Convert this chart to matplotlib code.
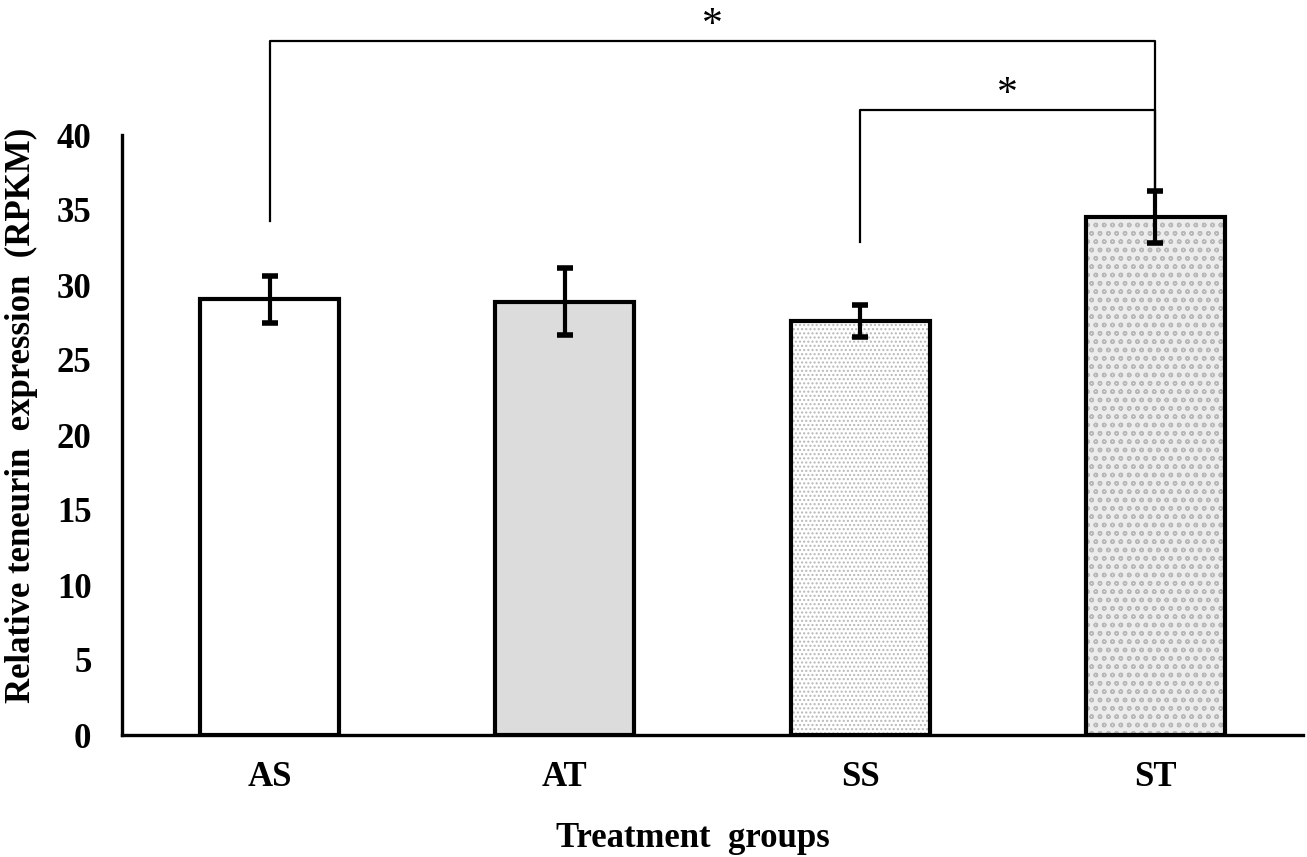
import matplotlib
matplotlib.use("Agg")
import matplotlib.pyplot as plt

groups = ["AS", "AT", "SS", "ST"]
means = [29.05, 28.9, 27.6, 34.55]
errors = [1.55, 2.25, 1.05, 1.75]
colors = ["white", "#dcdcdc", "white", "#ececec"]
hatches = [None, None, "....", "oo"]

# significance brackets: (left group, right group, bracket height, left leg bottom, label)
brackets = [(0, 3, 46.3, 34.3, "*"), (2, 3, 41.7, 32.9, "*")]

plt.rcParams["font.family"] = ["Liberation Serif", "DejaVu Serif"]
plt.rcParams["font.weight"] = "bold"
plt.rcParams["hatch.linewidth"] = 1.0

fig = plt.figure(figsize=(13.07, 8.57), dpi=100)
ax = fig.add_axes([122 / 1307, 122 / 857, (1303 - 122) / 1307, (735 - 135) / 857])

x = list(range(len(groups)))
for i in x:
    ax.bar(i, means[i], width=0.47, color=colors[i], hatch=hatches[i],
           edgecolor="#b8b8b8", linewidth=0, zorder=2)
ax.bar(x, means, width=0.47, fill=False, edgecolor="black", linewidth=3, zorder=3)
ax.errorbar(x, means, yerr=errors, fmt="none", ecolor="black", elinewidth=3,
            capsize=6, capthick=4, zorder=4)

for a, b, h, lo, lab in brackets:
    hi_right = means[b] + errors[b]
    ax.plot([a, a, b, b], [lo, h, h, hi_right], color="black", lw=1.6,
            clip_on=False, zorder=5)
    ax.text((a + b) / 2, h + 0.3, lab, ha="center", va="baseline", fontsize=30,
            fontweight="normal", clip_on=False)

ax.set_xlim(-0.5, 3.5)
ax.set_ylim(0, 40)
ax.set_yticks(range(0, 41, 5))
ax.set_xticks(x)
ax.set_xticklabels(groups)
ax.tick_params(axis="y", length=0, pad=22, labelsize=25)
ax.tick_params(axis="x", length=0, pad=19, labelsize=25)
for s in ["top", "right"]:
    ax.spines[s].set_visible(False)
for s in ["left", "bottom"]:
    ax.spines[s].set_linewidth(2.4)

ax.set_ylabel("Relative teneurin  expression  (RPKM)", fontsize=25,
              fontweight="bold")
ax.set_xlabel("Treatment  groups", fontsize=25, fontweight="bold")
ax.yaxis.set_label_coords(-0.071, 0.533)
ax.xaxis.set_label_coords(0.483, -0.145)

fig.savefig("out.png", dpi=100)
